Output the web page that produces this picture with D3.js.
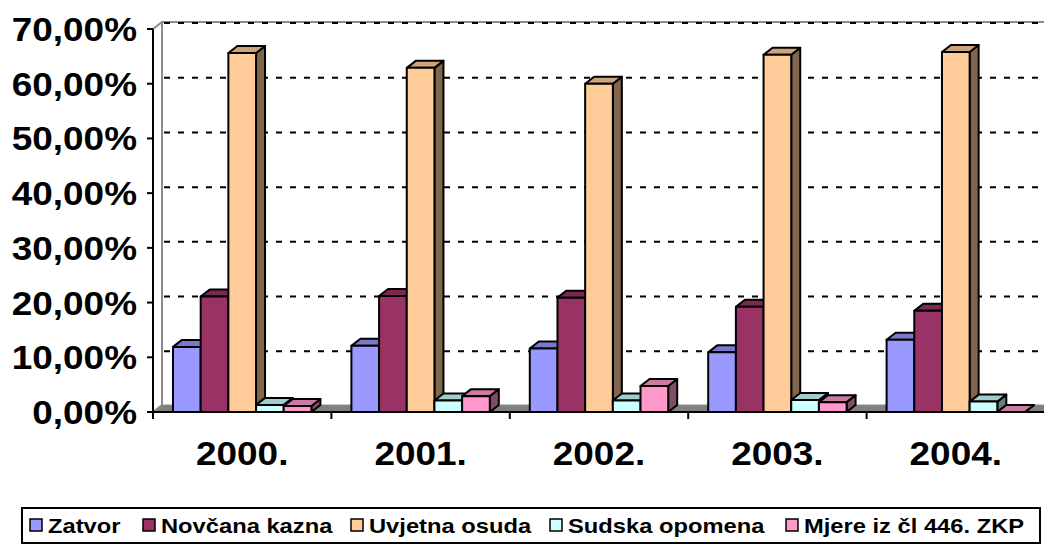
<!DOCTYPE html>
<html><head><meta charset="utf-8">
<script src="https://cdn.jsdelivr.net/npm/d3@7"></script>
<style>body{margin:0;background:#fff}svg{display:block}text{font-family:"Liberation Sans",Arial,sans-serif;font-weight:bold;fill:#000}</style>
</head><body><svg id="c" width="1044" height="544"></svg>
<script>
const categories = ["2000.", "2001.", "2002.", "2003.", "2004."];
const seriesNames = ["Zatvor", "Novčana kazna", "Uvjetna osuda", "Sudska opomena", "Mjere iz čl 446. ZKP"];
const zatvor   = [11.9, 12.1, 11.6, 10.9, 13.2];
const novcana  = [21.1, 21.2, 20.9, 19.25, 18.5];
const uvjetna  = [65.6, 62.9, 60.0, 65.3, 65.8];
const sudska   = [1.3, 2.1, 2.1, 2.2, 1.9];
const mjere    = [1.1, 2.9, 4.75, 1.8, 0];
const yTicks   = [0, 10, 20, 30, 40, 50, 60, 70];
const colors   = ["#9999FF", "#993366", "#FFCC99", "#CCFFFF", "#FF99CC"];
const seriesValues = [zatvor, novcana, uvjetna, sudska, mjere];

const svg = d3.select("#c");
const DX = 9, DY = -7;
const x0 = 153, yBase = 412;
const catW = 178.4;
const x = d3.scaleBand().domain(categories).range([x0, x0 + catW * 5]).padding(0);
const xs = d3.scaleBand().domain(seriesNames).range([20, catW - 20]).padding(0);
const y = d3.scaleLinear().domain([0, 70]).range([yBase, 29]);
const fmt = v => d3.format(".2f")(v).replace(".", ",") + "%";
const shade = (c, k) => { const r = d3.rgb(c); return d3.rgb(r.r * k, r.g * k, r.b * k).formatHex(); };
const xEnd = 1050;

// floor
svg.append("polygon")
  .attr("points", [[x0, yBase], [x0 + DX, yBase + DY], [xEnd, yBase + DY], [xEnd, yBase]].join(" "))
  .attr("fill", "#808080").attr("stroke", "#8c8c8c").attr("stroke-width", 1);
// walls
svg.append("path")
  .attr("d", `M${x0},${yBase} L${x0 + DX},${yBase + DY} L${x0 + DX},${y(70) + DY} L${xEnd},${y(70) + DY}`)
  .attr("fill", "none").attr("stroke", "#8c8c8c").attr("stroke-width", 2);
svg.append("path")
  .attr("d", `M${x0},${y(70)} L${x0 + DX},${y(70) + DY}`)
  .attr("fill", "none").attr("stroke", "#8c8c8c").attr("stroke-width", 2);

// gridlines on back wall
svg.append("g").selectAll("line").data(yTicks.filter(t => t > 0)).join("line")
  .attr("x1", x0 + DX + 2).attr("x2", xEnd)
  .attr("y1", d => y(d) + DY + 1).attr("y2", d => y(d) + DY + 1)
  .attr("stroke", "#000").attr("stroke-width", 2).attr("stroke-dasharray", "6,8");

// bars
const bars = svg.append("g");
categories.forEach((c, ci) => {
  seriesNames.forEach((s, si) => {
    const v = seriesValues[si][ci];
    const bx = x(c) + xs(s), bw = xs.bandwidth();
    const top = y(v), bot = yBase;
    const col = colors[si];
    const g = bars.append("g").attr("stroke", "#000").attr("stroke-width", 2).attr("stroke-linejoin", "round");
    g.append("polygon").attr("points", [[bx + bw, bot], [bx + bw + DX, bot + DY], [bx + bw + DX, top + DY], [bx + bw, top]].join(" "))
      .attr("fill", shade(col, 0.5));
    g.append("polygon").attr("points", [[bx, top], [bx + DX, top + DY], [bx + bw + DX, top + DY], [bx + bw, top]].join(" "))
      .attr("fill", shade(col, 0.8));
    if (bot - top > 0.5) g.append("rect").attr("x", bx).attr("y", top).attr("width", bw).attr("height", bot - top).attr("fill", col);
  });
});

// axes
svg.append("line").attr("x1", x0).attr("x2", x0).attr("y1", y(70)).attr("y2", yBase + 1).attr("stroke", "#000").attr("stroke-width", 2);
svg.append("line").attr("x1", x0 - 1).attr("x2", xEnd).attr("y1", yBase).attr("y2", yBase).attr("stroke", "#000").attr("stroke-width", 2);
svg.append("g").selectAll("line").data(yTicks).join("line")
  .attr("x1", x0 - 6).attr("x2", x0).attr("y1", d => y(d)).attr("y2", d => y(d)).attr("stroke", "#000").attr("stroke-width", 2);
svg.append("g").selectAll("line").data(d3.range(categories.length + 1)).join("line")
  .attr("x1", i => x0 + i * catW).attr("x2", i => x0 + i * catW).attr("y1", yBase).attr("y2", yBase + 7)
  .attr("stroke", "#000").attr("stroke-width", 2);

const SX = 1.12;
svg.append("g").selectAll("text").data(yTicks).join("text")
  .attr("transform", d => `translate(137,${y(d) + 12}) scale(${SX},1)`)
  .attr("text-anchor", "end").attr("font-size", 33).text(fmt);
svg.append("g").selectAll("text").data(categories).join("text")
  .attr("transform", d => `translate(${x(d) + x.bandwidth() / 2},465) scale(${SX},1)`)
  .attr("text-anchor", "middle").attr("font-size", 33).text(d => d);

// legend
svg.append("rect").attr("x", 22).attr("y", 508).attr("width", 1018).attr("height", 35)
  .attr("fill", "#fff").attr("stroke", "#000").attr("stroke-width", 2);
const legX = [30, 143, 351, 550, 786];
const lg = svg.append("g");
seriesNames.forEach((s, i) => {
  lg.append("rect").attr("x", legX[i]).attr("y", 519).attr("width", 12).attr("height", 12)
    .attr("fill", colors[i]).attr("stroke", "#000").attr("stroke-width", 1.5);
  lg.append("text").attr("transform", `translate(${legX[i] + 18},533) scale(1.13,1)`)
    .attr("font-size", 21).text(s);
});
</script></body></html>
